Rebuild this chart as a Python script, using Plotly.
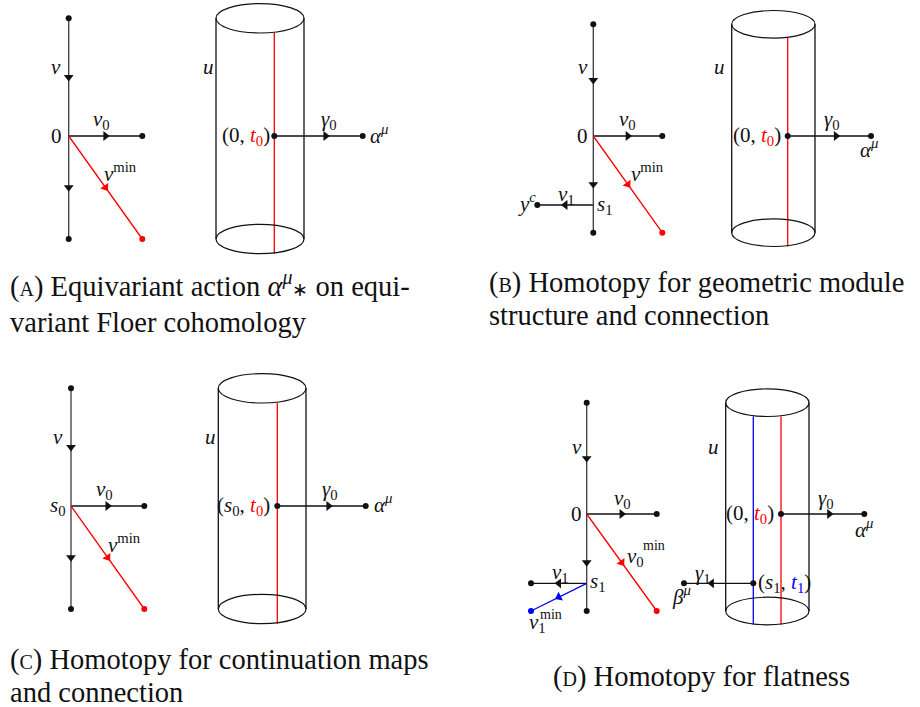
import math
import plotly.graph_objects as go

W, H = 920, 707

# ---------------- left diagrams (parameter space), panels A, B, C, D ----------------
axis_x    = [68.7, 593.3, 71.0, 586.7]     # vertical line x
axis_top  = [18.3, 24.3, 388.3, 402.7]     # top endpoint
axis_org  = [136.0, 136.0, 506.0, 514.0]   # origin (0 / s0)
axis_bot  = [239.0, 232.7, 609.0, 611.0]   # bottom endpoint
v0_end_x  = [142.3, 662.3, 144.3, 656.7]   # end of v0 branch
vmin_end_x = [142.3, 662.3, 144.3, 656.7]  # end of red v^min branch
vmin_end_y = [239.0, 232.7, 609.0, 611.0]

# s1 branch (panels B and D)
s1_panel = [1, 3]
s1_y     = [205.0, 583.3]
s1_end_x = [537.3, 531.0]
# blue v1^min branch (panel D)
v1min_end = (531.0, 611.0)

# ---------------- cylinders ----------------
cyl_left   = [216.0, 731.7, 218.3, 725.7]
cyl_right  = [304.0, 815.0, 306.0, 809.0]
cyl_top    = [18.3, 24.3, 388.3, 402.7]
cyl_bot    = [239.0, 232.7, 609.0, 611.0]
cyl_ry     = [14.7, 13.8, 14.7, 13.8]
red_line_x = [274.3, 787.7, 277.3, 781.0]
out_y      = [136.0, 136.0, 506.0, 514.0]   # height of (0,t0) point
out_end_x  = [362.7, 871.0, 365.7, 864.3]   # alpha^mu point
# panel D blue line and gamma1
blue_line_x = 753.3
g1_y = 583.3
g1_end_x = 684.0

# ---------------- captions ----------------
cap_line1 = ["Equivariant action <i>α</i><sup><i>μ</i></sup><span style='font-size:19px'>∗</span> on equi-",
             "Homotopy for geometric module",
             "Homotopy for continuation maps",
             "Homotopy for flatness"]
cap_line2 = ["variant Floer cohomology", "structure and connection", "and connection", ""]
cap_tag = ["A", "B", "C", "D"]
cap_x = [8.0, 486.7, 8.0, 701.7]
cap_y1 = [284.0, 283.0, 660.0, 677.0]
cap_y2 = [322.0, 315.0, 692.0, 0.0]

BLACK = "#111111"
AXIS = "#3a3a3a"
RED = "#ff0000"
BLUE = "#0000ff"
LABEL_FONT = "Liberation Serif"
LS = 21
CS = 28.5

fig = go.Figure()

segs = {BLACK: ([], []), AXIS: ([], []), RED: ([], []), BLUE: ([], [])}
dots = {BLACK: ([], []), RED: ([], []), BLUE: ([], [])}
arrows = {BLACK: ([], [], []), RED: ([], [], []), BLUE: ([], [], [])}


def seg(c, x0, y0, x1, y1):
    segs[c][0].extend([x0, x1, None])
    segs[c][1].extend([y0, y1, None])


def dot(c, x, y):
    dots[c][0].append(x)
    dots[c][1].append(y)


def arrow(c, x0, y0, x1, y1, f=0.5):
    ax = x0 + (x1 - x0) * f
    ay = y0 + (y1 - y0) * f
    ang = math.degrees(math.atan2(x1 - x0, -(y1 - y0)))
    arrows[c][0].append(ax)
    arrows[c][1].append(ay)
    arrows[c][2].append(ang)


for i in range(4):
    ax_, top, org, bot = axis_x[i], axis_top[i], axis_org[i], axis_bot[i]
    seg(AXIS, ax_, top, ax_, bot)
    arrow(BLACK, ax_, top, ax_, org)
    arrow(BLACK, ax_, org, ax_, bot)
    dot(BLACK, ax_, top)
    dot(BLACK, ax_, bot)
    seg(BLACK, ax_, org, v0_end_x[i], org)
    arrow(BLACK, ax_, org, v0_end_x[i], org)
    dot(BLACK, v0_end_x[i], org)
    seg(RED, ax_, org, vmin_end_x[i], vmin_end_y[i])
    arrow(RED, ax_, org, vmin_end_x[i], vmin_end_y[i])
    dot(RED, vmin_end_x[i], vmin_end_y[i])

for k, p in enumerate(s1_panel):
    ax_ = axis_x[p]
    seg(BLACK, ax_, s1_y[k], s1_end_x[k], s1_y[k])
    arrow(BLACK, ax_, s1_y[k], s1_end_x[k], s1_y[k])
    dot(BLACK, s1_end_x[k], s1_y[k])

# blue branch in D
seg(BLUE, axis_x[3], s1_y[1], v1min_end[0], v1min_end[1])
arrow(BLUE, axis_x[3], s1_y[1], v1min_end[0], v1min_end[1])
dot(BLUE, v1min_end[0], v1min_end[1])

shapes = []
for i in range(4):
    l, r, t, b, ry = cyl_left[i], cyl_right[i], cyl_top[i], cyl_bot[i], cyl_ry[i]
    seg(BLACK, l, t, l, b)
    seg(BLACK, r, t, r, b)
    for cy in (t, b):
        shapes.append(dict(type="circle", xref="x", yref="y", x0=l, x1=r, y0=cy - ry, y1=cy + ry,
                           line=dict(color=BLACK, width=1.2)))
    seg(RED, red_line_x[i], t + ry, red_line_x[i], b + ry)
    seg(BLACK, red_line_x[i], out_y[i], out_end_x[i], out_y[i])
    arrow(BLACK, red_line_x[i], out_y[i], out_end_x[i], out_y[i], 0.58)
    dot(BLACK, red_line_x[i], out_y[i])
    dot(BLACK, out_end_x[i], out_y[i])

seg(BLUE, blue_line_x, cyl_top[3] + cyl_ry[3], blue_line_x, cyl_bot[3] + cyl_ry[3])
seg(BLACK, blue_line_x, g1_y, g1_end_x, g1_y)
arrow(BLACK, blue_line_x, g1_y, g1_end_x, g1_y, 0.6)
dot(BLACK, blue_line_x, g1_y)
dot(BLACK, g1_end_x, g1_y)

for c, (xs, ys) in segs.items():
    fig.add_trace(go.Scatter(x=xs, y=ys, mode="lines", line=dict(color=c, width=1.3),
                             hoverinfo="skip", showlegend=False))
for c, (xs, ys, angs) in arrows.items():
    fig.add_trace(go.Scatter(x=xs, y=ys, mode="markers",
                             marker=dict(symbol="triangle-up", size=8.5, angle=angs, color=c,
                                         line=dict(width=0)),
                             hoverinfo="skip", showlegend=False))
for c, (xs, ys) in dots.items():
    fig.add_trace(go.Scatter(x=xs, y=ys, mode="markers",
                             marker=dict(symbol="circle", size=6, color=c, line=dict(width=0)),
                             hoverinfo="skip", showlegend=False))

ann = []


def lab(text, x, y, xa="center", size=LS, color="#111"):
    ann.append(dict(text=text, x=x, y=y, xref="x", yref="y", xanchor=xa, yanchor="middle",
                    showarrow=False, font=dict(family=LABEL_FONT, size=size, color=color)))


red = lambda s: "<span style='color:#ff0000'>" + s + "</span>"
blue = lambda s: "<span style='color:#0000ff'>" + s + "</span>"

org_lab = ["0", "0", "<i>s</i><sub>0</sub>", "0"]
org_lab_x = [56.0, 582.7, 58.3, 576.7]
v_lab_x = [56.0, 583.3, 58.3, 576.7]
v_lab_y = [67.0, 67.0, 437.3, 446.7]
v0_lab_x = [101.0, 627.0, 104.0, 622.3]
v0_lab_y = [120.0, 120.0, 490.0, 499.3]
vmin_lab_x = [102.0, 629.0, 106.0, 625.0]
vmin_lab_y = [172.0, 172.0, 543.0, 556.0]
u_lab_x = [208.0, 719.3, 210.0, 713.3]
pt_lab = ["(0, " + red("<i>t</i><sub>0</sub>") + ")", "(0, " + red("<i>t</i><sub>0</sub>") + ")",
          "(<i>s</i><sub>0</sub>, " + red("<i>t</i><sub>0</sub>") + ")",
          "(0, " + red("<i>t</i><sub>0</sub>") + ")"]
pt_lab_x = [272.0, 782.7, 271.7, 776.0]
g0_lab_x = [329.0, 831.7, 330.0, 826.0]
am_lab_x = [368.0, 869.0, 372.0, 863.5]
am_lab_y = [134.0, 148.0, 503.0, 528.0]
am_xa = ["left", "center", "left", "center"]

for i in range(4):
    lab("<i>v</i>", v_lab_x[i], v_lab_y[i])
    lab(org_lab[i], org_lab_x[i], axis_org[i])
    lab("<i>v</i><sub>0</sub>", v0_lab_x[i], v0_lab_y[i])
    if i < 3:
        lab("<i>v</i><sup>min</sup>", vmin_lab_x[i], vmin_lab_y[i], xa="left")
    lab("<i>u</i>", u_lab_x[i], v_lab_y[i])
    lab(pt_lab[i], pt_lab_x[i], out_y[i], xa="right")
    lab("<i>γ</i><sub>0</sub>", g0_lab_x[i], v0_lab_y[i])
    lab("<i>α</i><sup><i>μ</i></sup>", am_lab_x[i], am_lab_y[i], xa=am_xa[i])

# panel B extras
lab("<i>v</i><sub>1</sub>", 566.7, 195.0)
lab("<i>y</i><sup><i>c</i></sup>", 527.0, 202.0)
lab("<i>s</i><sub>1</sub>", 605.0, 205.0)
# panel D extras
lab("<i>v</i><sub>0</sub>", 625.0, 557.0, xa="left")
lab("min", 641.0, 545.0, xa="left", size=14)
lab("<i>v</i><sub>1</sub>", 560.0, 573.3)
lab("<i>s</i><sub>1</sub>", 598.3, 582.0)
lab("<i>v</i><sub>1</sub>", 526.7, 623.0, xa="left")
lab("min", 538.0, 614.0, xa="left", size=14)
lab("<i>γ</i><sub>1</sub>", 703.0, 574.0)
lab("<i>β</i><sup><i>μ</i></sup>", 681.7, 595.5)
lab("(<i>s</i><sub>1</sub>, " + blue("<i>t</i><sub>1</sub>") + ")", 756.0, g1_y, xa="left")

# captions
for i in range(4):
    t1 = "(<span style='font-size:20px'>" + cap_tag[i] + "</span>) " + cap_line1[i]
    xa = "center" if i == 3 else "left"
    ann.append(dict(text=t1, x=cap_x[i], y=cap_y1[i], xref="x", yref="y", xanchor=xa,
                    yanchor="middle", showarrow=False,
                    font=dict(family=LABEL_FONT, size=CS, color="#111")))
    if cap_line2[i]:
        ann.append(dict(text=cap_line2[i], x=cap_x[i], y=cap_y2[i], xref="x", yref="y",
                        xanchor="left", yanchor="middle", showarrow=False,
                        font=dict(family=LABEL_FONT, size=CS, color="#111")))

fig.update_layout(
    width=W, height=H, margin=dict(l=0, r=0, t=0, b=0),
    paper_bgcolor="white", plot_bgcolor="white",
    font=dict(family=LABEL_FONT),
    xaxis=dict(range=[0, W], visible=False, fixedrange=True),
    yaxis=dict(range=[H, 0], visible=False, fixedrange=True),
    shapes=shapes, annotations=ann, showlegend=False,
)
fig.write_html("out.html", config={"displayModeBar": False},
               post_script="document.body.style.margin='0';document.body.style.overflow='hidden';")
